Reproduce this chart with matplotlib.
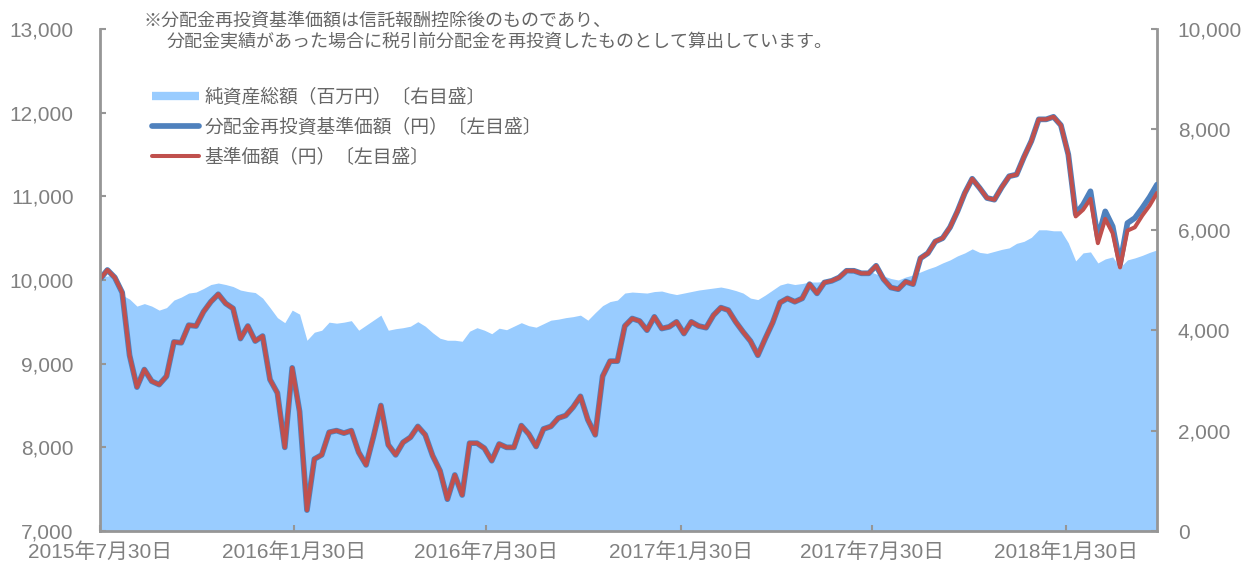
import numpy as np
import pandas as pd
import matplotlib
matplotlib.use('Agg')
import matplotlib.pyplot as plt
from matplotlib.lines import Line2D
from matplotlib.ticker import FuncFormatter, MultipleLocator

# 週次データ
dates = pd.date_range('2015-07-30', periods=144, freq='7D')

# 基準価額（円）
nav = [10010, 10120, 10030, 9850, 9100, 8720, 8930, 8790, 8750, 8850,
       9260, 9250, 9460, 9450, 9620, 9740, 9830, 9720, 9660, 9300,
       9450, 9270, 9330, 8810, 8650, 8000, 8950, 8430, 7250, 7860,
       7910, 8180, 8200, 8170, 8200, 7940, 7790, 8130, 8500, 8030,
       7910, 8060, 8120, 8250, 8150, 7900, 7720, 7380, 7670, 7430,
       8050, 8050, 7990, 7840, 8040, 8000, 8000, 8260, 8160, 8010,
       8220, 8250, 8350, 8380, 8480, 8610, 8330, 8150, 8850, 9030,
       9030, 9450, 9540, 9510, 9400, 9560, 9420, 9440, 9500, 9360,
       9500, 9450, 9430, 9580, 9670, 9640, 9500, 9380, 9270, 9100,
       9300, 9490, 9730, 9780, 9740, 9780, 9950, 9840, 9970, 9990,
       10030, 10110, 10110, 10080, 10080, 10170, 10010, 9910, 9890, 9980,
       9950, 10260, 10320, 10460, 10500, 10630, 10820, 11040, 11210, 11100,
       10980, 10960, 11110, 11240, 11260, 11470, 11660, 11920, 11920, 11950,
       11850, 11500, 10760, 10840, 10970, 10440, 10730, 10560, 10150, 10590,
       10630, 10770, 10890, 11040]

# 分配金再投資基準価額（円）
nav_reinvest = [10010, 10120, 10030, 9850, 9100, 8720, 8930, 8790, 8750, 8850,
                9260, 9250, 9460, 9450, 9620, 9740, 9830, 9720, 9660, 9300,
                9450, 9270, 9330, 8810, 8650, 8000, 8950, 8430, 7250, 7860,
                7910, 8180, 8200, 8170, 8200, 7940, 7790, 8130, 8500, 8030,
                7910, 8060, 8120, 8250, 8150, 7900, 7720, 7380, 7670, 7430,
                8050, 8050, 7990, 7840, 8040, 8000, 8000, 8260, 8160, 8010,
                8220, 8250, 8350, 8380, 8480, 8610, 8330, 8150, 8850, 9030,
                9030, 9450, 9540, 9510, 9400, 9560, 9420, 9440, 9500, 9360,
                9500, 9450, 9430, 9580, 9670, 9640, 9500, 9380, 9270, 9100,
                9300, 9490, 9730, 9780, 9740, 9780, 9950, 9840, 9970, 9990,
                10030, 10110, 10110, 10080, 10080, 10170, 10010, 9910, 9890, 9980,
                9950, 10260, 10320, 10460, 10500, 10630, 10820, 11040, 11210, 11100,
                10980, 10960, 11110, 11240, 11260, 11470, 11660, 11920, 11920, 11950,
                11850, 11500, 10790, 10900, 11060, 10500, 10820, 10640, 10190, 10680,
                10740, 10860, 10990, 11140]

# 純資産総額（百万円）
net_assets = [5060, 5080, 5100, 4700, 4620, 4480, 4530, 4480, 4400, 4450,
              4600, 4660, 4740, 4760, 4830, 4910, 4940, 4910, 4870, 4800,
              4770, 4750, 4640, 4450, 4250, 4150, 4400, 4320, 3800, 3960,
              4000, 4160, 4140, 4160, 4190, 4000, 4100, 4200, 4300, 4000,
              4030, 4050, 4080, 4170, 4080, 3950, 3840, 3800, 3800, 3780,
              3980, 4050, 4000, 3930, 4040, 4010, 4080, 4150, 4090, 4060,
              4130, 4200, 4220, 4250, 4270, 4300, 4200, 4350, 4490, 4570,
              4600, 4740, 4760, 4750, 4740, 4770, 4780, 4740, 4710, 4740,
              4770, 4800, 4820, 4840, 4860, 4830, 4790, 4740, 4640, 4610,
              4700, 4800, 4900, 4940, 4910, 4930, 4960, 4960, 4970, 5050,
              5100, 5130, 5160, 5190, 5180, 5120, 5080, 5030, 5000, 5060,
              5100, 5160, 5220, 5270, 5340, 5400, 5480, 5540, 5620, 5550,
              5530, 5570, 5610, 5640, 5730, 5770, 5850, 6000, 6000, 5980,
              5980, 5740, 5380, 5540, 5560, 5340, 5420, 5460, 5250, 5400,
              5440, 5490, 5550, 5600]

tick_dates = pd.to_datetime(['2015-07-30', '2016-01-30', '2016-07-30',
                             '2017-01-30', '2017-07-30', '2018-01-30'])
tick_labels = ['2015年7月30日', '2016年1月30日', '2016年7月30日',
               '2017年1月30日', '2017年7月30日', '2018年1月30日']

label_assets = '純資産総額（百万円）〔右目盛〕'
label_reinvest = '分配金再投資基準価額（円）〔左目盛〕'
label_nav = '基準価額（円）〔左目盛〕'
note_1 = '※分配金再投資基準価額は信託報酬控除後のものであり、'
note_2 = '分配金実績があった場合に税引前分配金を再投資したものとして算出しています。'

axis_grey = '#969696'
tick_grey = '#808080'
text_grey = '#666666'
jp = 'Noto Sans CJK JP'
num_font = ['Liberation Sans', 'Noto Sans CJK JP']

fig = plt.figure(figsize=(12.5, 5.66), dpi=100)
ax = fig.add_axes([0.08, 0.0618, 0.8456, 0.887])
ax2 = ax.twinx()

ax2.fill_between(dates, net_assets, 0, color='#99CCFF', lw=0)
ax.plot(dates, nav_reinvest, color='#4F81BD', lw=4.1,
        solid_capstyle='round', solid_joinstyle='round')
ax.plot(dates, nav, color='#C0504D', lw=2.9,
        solid_capstyle='round', solid_joinstyle='round')

ax.set_zorder(ax2.get_zorder() + 1)
ax.patch.set_visible(False)

ax.set_xlim(dates[0], dates[-1])
ax.set_ylim(7000, 13000)
ax2.set_ylim(0, 10000)
ax.yaxis.set_major_locator(MultipleLocator(1000))
ax2.yaxis.set_major_locator(MultipleLocator(2000))
fmt = FuncFormatter(lambda v, p: f'{int(v):,}')
ax.yaxis.set_major_formatter(fmt)
ax2.yaxis.set_major_formatter(fmt)
ax.set_xticks(tick_dates)
ax.set_xticklabels(tick_labels)

for a in (ax, ax2):
    a.spines['top'].set_visible(False)
    for s in a.spines.values():
        s.set_color(axis_grey)
        s.set_linewidth(2)
ax.spines['right'].set_visible(False)
ax2.spines['left'].set_visible(False)
ax2.spines['bottom'].set_visible(False)

ax.tick_params(axis='y', direction='in', length=4, width=1.5, color=axis_grey,
               pad=19, labelsize=15, labelcolor=tick_grey)
ax.tick_params(axis='x', direction='in', length=4, width=1.5, color=axis_grey,
               pad=8, labelsize=15, labelcolor=tick_grey)
ax2.tick_params(axis='y', direction='in', length=4, width=1.5, color=axis_grey,
                pad=15, labelsize=15, labelcolor=tick_grey)
for lab in ax.get_yticklabels() + ax2.get_yticklabels() + ax.get_xticklabels():
    lab.set_family(num_font)

handles = [Line2D([], [], color='#99CCFF', lw=6, solid_capstyle='butt'),
           Line2D([], [], color='#4F81BD', lw=4.1, solid_capstyle='round'),
           Line2D([], [], color='#C0504D', lw=2.9, solid_capstyle='round')]
fig.legend(handles, [label_assets, label_reinvest, label_nav],
           loc='upper left', bbox_to_anchor=(152 / 1250, 1 - 87 / 566),
           frameon=False, borderpad=0, borderaxespad=0, handlelength=2.5,
           handletextpad=0.3, labelspacing=0.48,
           prop={'family': jp, 'size': 13.5}, labelcolor=text_grey)

fig.text(143 / 1250, 1 - 21 / 566, note_1, ha='left', va='center',
         fontsize=13, color=text_grey, family=jp)
fig.text(167 / 1250, 1 - 42 / 566, note_2, ha='left', va='center',
         fontsize=13, color=text_grey, family=jp)

fig.savefig('out.png', dpi=100)
